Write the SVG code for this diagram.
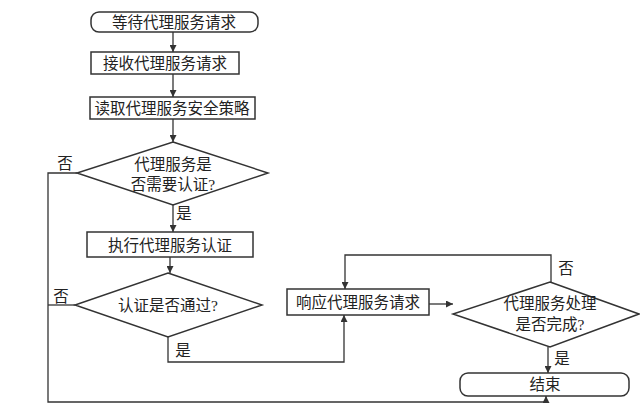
<svg xmlns="http://www.w3.org/2000/svg" width="640" height="420" viewBox="0 0 640 420">
<style>
.s{fill:#fff;stroke:#333;stroke-width:1.5}
.t{font-family:"Liberation Serif","Noto Sans CJK SC",serif;font-size:15.5px;fill:#222;text-anchor:middle;dominant-baseline:central}
.l{fill:none;stroke:#333;stroke-width:1.3}
</style>
<defs>
<marker id="a" viewBox="0 0 10 10" refX="10" refY="5" markerWidth="7" markerHeight="7" orient="auto" markerUnits="userSpaceOnUse">
<path d="M0,0 L10,5 L0,10 z" fill="#333"/>
</marker>
</defs>
<rect width="640" height="420" fill="#fff"/>
<g id="connectors">
<path class="l" d="M173,32 V52" marker-end="url(#a)"/>
<path class="l" d="M173,74 V97" marker-end="url(#a)"/>
<path class="l" d="M173,119 V142" marker-end="url(#a)"/>
<path class="l" d="M173,205 V232" marker-end="url(#a)"/>
<path class="l" d="M170,257 V273" marker-end="url(#a)"/>
<path class="l" d="M77,173 H48 V402 H546 V396" marker-end="url(#a)"/>
<path class="l" d="M75,305 H48"/>
<path class="l" d="M168,337 V362 H344 V315" marker-end="url(#a)"/>
<path class="l" d="M429,304 H453" marker-end="url(#a)"/>
<path class="l" d="M551,282 V255 H345 V289" marker-end="url(#a)"/>
<path class="l" d="M548,347 V373" marker-end="url(#a)"/>
<text class="t" x="65" y="163">否</text>
<text class="t" x="184" y="213">是</text>
<text class="t" x="61" y="296">否</text>
<text class="t" x="183" y="350">是</text>
<text class="t" x="566" y="268">否</text>
<text class="t" x="562" y="358">是</text>
</g>
<g id="n1"><rect class="s" x="91" y="12" width="167" height="20" rx="8"/><text class="t" x="174" y="22">等待代理服务请求</text></g>
<g id="n2"><rect class="s" x="91" y="52" width="148" height="22"/><text class="t" x="165" y="63">接收代理服务请求</text></g>
<g id="n3"><rect class="s" x="90" y="97" width="165" height="22"/><text class="t" x="172" y="108">读取代理服务安全策略</text></g>
<g id="n4"><polygon class="s" points="173,142 268,173 173,205 77,173"/><text class="t" x="173" y="164">代理服务是</text><text class="t" x="173" y="184">否需要认证?</text></g>
<g id="n5"><rect class="s" x="87" y="232" width="166" height="25"/><text class="t" x="170" y="245">执行代理服务认证</text></g>
<g id="n6"><polygon class="s" points="168,273 262,305 168,337 75,305"/><text class="t" x="168" y="305">认证是否通过?</text></g>
<g id="n7"><rect class="s" x="287" y="289" width="142" height="26"/><text class="t" x="358" y="302">响应代理服务请求</text></g>
<g id="n8"><polygon class="s" points="550,282 639,314 550,347 453,314"/><text class="t" x="550" y="303">代理服务处理</text><text class="t" x="550" y="324">是否完成?</text></g>
<g id="n9"><rect class="s" x="460" y="373" width="169" height="23" rx="8"/><text class="t" x="545" y="384">结束</text></g>
</svg>
